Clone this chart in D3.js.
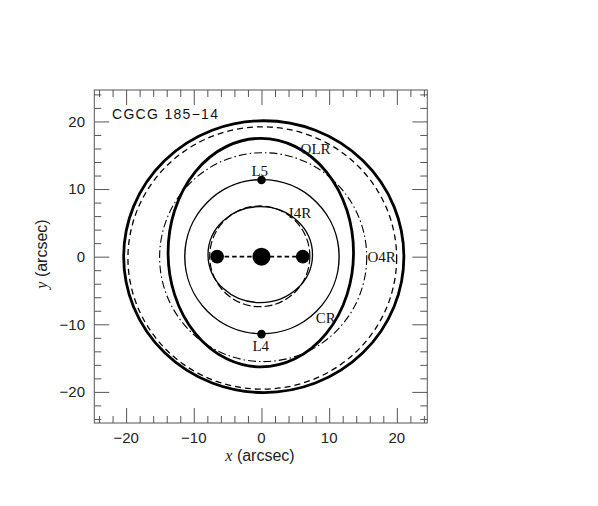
<!DOCTYPE html>
<html>
<head>
<meta charset="utf-8">
<script src="https://cdn.jsdelivr.net/npm/d3@7"></script>
<style>
    body { margin: 0; background: #fff; }
    #chart svg { display: block; }
</style>
</head>
<body>
<div id="chart"></div>
<script>
// ring / resonance curves, in arcsec (centre offset and semi-axes)
var curveNames = ['outerRing', 'outerModel', 'innerRing', 'o4r', 'cr', 'innerSolid', 'i4r'];
var curveX0 = [0.34, 0.12, -0.1, 0.25, 0.07, -0.18, -0.25];
var curveY0 = [0.0, -0.2, 0.6, -0.07, 0.0, 0.3, 0.05];
var curveA = [20.7, 19.85, 13.7, 15.3, 11.4, 7.72, 7.4];
var curveB = [20.1, 19.4, 16.9, 15.45, 11.4, 7.1, 7.45];

// bar ends, centre and Lagrangian points
var pointKinds = ['end', 'center', 'end', 'lagrange', 'lagrange'];
var pointX = [-6.55, 0, 6.1, 0, 0];
var pointY = [0, 0, 0, 11.35, -11.45];

// labels
var labelText = ['OLR', 'L5', 'I4R', 'O4R', 'CR', 'L4'];
var labelX = [8.0, -0.25, 5.7, 17.75, 9.5, -0.1];
var labelY = [16.0, 12.8, 6.55, 0, -9.0, -13.2];

var majorTicks = [-20, -10, 0, 10, 20];
var minorTicks = [-24, -22, -18, -16, -14, -12, -8, -6, -4, -2, 2, 4, 6, 8, 12, 14, 16, 18, 22, 24];
var galaxyName = 'CGCG 185−14';

(function(d3) {
    'use strict';

    var settings = {
        width: 598,
        height: 506,
        frame: { left: 94.3, right: 427.3, top: 90, bottom: 423 },
        tick: { major: 15, minor: 7 },
        frameColor: '#555'
    };

    var curveStyle = {
        outerRing: { width: 2.8, dash: null },
        outerModel: { width: 1.3, dash: '6,4' },
        innerRing: { width: 2.8, dash: null },
        o4r: { width: 1.1, dash: '8,3,1.5,3' },
        cr: { width: 1.4, dash: null },
        innerSolid: { width: 1.3, dash: null },
        i4r: { width: 1.2, dash: '8,3' }
    };

    var dotRadius = { center: 9, end: 6.8, lagrange: 4.3 };

    var x = d3.scaleLinear().domain([-24.7, 24.5]).range([settings.frame.left, settings.frame.right]);
    var y = d3.scaleLinear().domain([-24.6, 24.65]).range([settings.frame.bottom, settings.frame.top]);

    var svg = d3.select('#chart').append('svg')
        .attr('width', settings.width)
        .attr('height', settings.height);

    svg.append('rect')
        .attr('width', settings.width)
        .attr('height', settings.height)
        .attr('fill', '#fff');

    // curves
    var curves = curveNames.map(function(name, i) {
        return { name: name, x0: curveX0[i], y0: curveY0[i], a: curveA[i], b: curveB[i] };
    });

    svg.append('g').selectAll('ellipse')
        .data(curves)
        .enter()
        .append('ellipse')
        .attr('cx', function(d) { return x(d.x0); })
        .attr('cy', function(d) { return y(d.y0); })
        .attr('rx', function(d) { return x(d.x0 + d.a) - x(d.x0); })
        .attr('ry', function(d) { return y(d.y0) - y(d.y0 + d.b); })
        .attr('fill', 'none')
        .attr('stroke', '#000')
        .attr('stroke-width', function(d) { return curveStyle[d.name].width; })
        .attr('stroke-dasharray', function(d) { return curveStyle[d.name].dash; });

    // bar (dashed line between the bar ends)
    var ends = pointKinds.map(function(k, i) { return k === 'end' ? i : -1; })
        .filter(function(i) { return i >= 0; });

    svg.append('line')
        .attr('x1', x(pointX[ends[0]]))
        .attr('y1', y(pointY[ends[0]]))
        .attr('x2', x(pointX[ends[1]]))
        .attr('y2', y(pointY[ends[1]]))
        .attr('stroke', '#000')
        .attr('stroke-width', 1.8)
        .attr('stroke-dasharray', '4.5,3');

    svg.append('g').selectAll('circle')
        .data(pointKinds)
        .enter()
        .append('circle')
        .attr('cx', function(d, i) { return x(pointX[i]); })
        .attr('cy', function(d, i) { return y(pointY[i]); })
        .attr('r', function(d) { return dotRadius[d]; })
        .attr('fill', '#000');

    // labels
    svg.append('g').selectAll('text')
        .data(labelText)
        .enter()
        .append('text')
        .attr('x', function(d, i) { return x(labelX[i]); })
        .attr('y', function(d, i) { return y(labelY[i]); })
        .attr('dy', '0.36em')
        .attr('text-anchor', 'middle')
        .style('font-family', '"Liberation Serif", "DejaVu Serif", serif')
        .style('font-size', '15px')
        .attr('fill', '#111')
        .text(function(d) { return d; });

    svg.append('text')
        .attr('x', 112)
        .attr('y', y(20) - 2)
        .style('font-family', '"Liberation Sans", Arial, sans-serif')
        .style('font-size', '14px')
        .style('letter-spacing', '1.3px')
        .attr('fill', '#111')
        .text(galaxyName);

    // frame and ticks on all four sides
    var f = settings.frame;
    svg.append('rect')
        .attr('x', f.left)
        .attr('y', f.top)
        .attr('width', f.right - f.left)
        .attr('height', f.bottom - f.top)
        .attr('fill', 'none')
        .attr('stroke', settings.frameColor)
        .attr('stroke-width', 1);

    function addAxis(axis, offset, ticks, size) {
        svg.append('g')
            .attr('transform', offset)
            .call(axis.tickValues(ticks).tickSize(size).tickFormat(''))
            .call(function(g) {
                g.select('.domain').remove();
                g.selectAll('line').attr('stroke', settings.frameColor);
            });
    }

    [[majorTicks, settings.tick.major], [minorTicks, settings.tick.minor]].forEach(function(t) {
        addAxis(d3.axisTop(x), 'translate(0,' + f.bottom + ')', t[0], t[1]);
        addAxis(d3.axisBottom(x), 'translate(0,' + f.top + ')', t[0], t[1]);
        addAxis(d3.axisRight(y), 'translate(' + f.left + ',0)', t[0], t[1]);
        addAxis(d3.axisLeft(y), 'translate(' + f.right + ',0)', t[0], t[1]);
    });

    var fmt = d3.format('d');

    svg.append('g').selectAll('text')
        .data(majorTicks)
        .enter()
        .append('text')
        .attr('x', function(d) { return x(d); })
        .attr('y', 443)
        .attr('text-anchor', 'middle')
        .style('font-family', '"Liberation Sans", Arial, sans-serif')
        .style('font-size', '15px')
        .attr('fill', '#222')
        .text(fmt);

    svg.append('g').selectAll('text')
        .data(majorTicks)
        .enter()
        .append('text')
        .attr('x', 85)
        .attr('y', function(d) { return y(d); })
        .attr('dy', '0.36em')
        .attr('text-anchor', 'end')
        .style('font-family', '"Liberation Sans", Arial, sans-serif')
        .style('font-size', '15px')
        .attr('fill', '#222')
        .text(fmt);

    // axis titles
    var xTitle = svg.append('text')
        .attr('x', 260)
        .attr('y', 461)
        .attr('text-anchor', 'middle')
        .style('font-family', '"Liberation Sans", Arial, sans-serif')
        .style('font-size', '16px')
        .attr('fill', '#222');
    xTitle.append('tspan')
        .style('font-family', '"Liberation Serif", serif')
        .style('font-style', 'italic')
        .text('x');
    xTitle.append('tspan').text(' (arcsec)');

    var yTitle = svg.append('text')
        .attr('transform', 'translate(47,254) rotate(-90)')
        .attr('text-anchor', 'middle')
        .style('font-family', '"Liberation Sans", Arial, sans-serif')
        .style('font-size', '16px')
        .attr('fill', '#222');
    yTitle.append('tspan')
        .style('font-family', '"Liberation Serif", serif')
        .style('font-style', 'italic')
        .text('y');
    yTitle.append('tspan').text(' (arcsec)');

})(window.d3);
</script>
</body>
</html>
